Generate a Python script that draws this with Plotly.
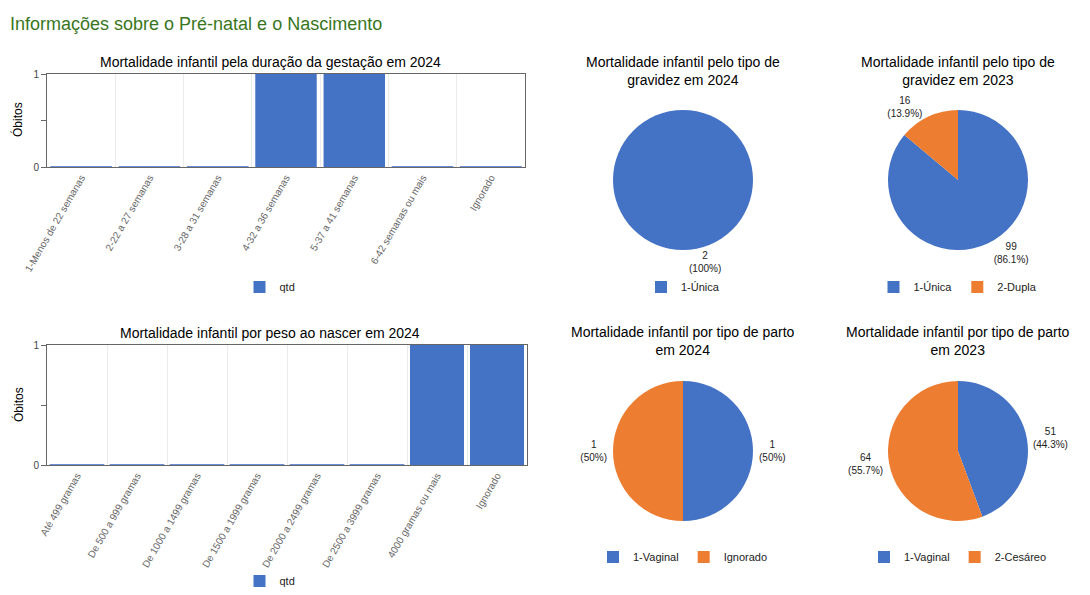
import plotly.graph_objects as go

# ---------------- data ----------------
gest_categories = ["1-Menos de 22 semanas", "2-22 a 27 semanas", "3-28 a 31 semanas",
                   "4-32 a 36 semanas", "5-37 a 41 semanas", "6-42 semanas ou mais", "Ignorado"]
gest_values = [0, 0, 0, 1, 1, 0, 0]

peso_categories = ["Até 499 gramas", "De 500 a 999 gramas", "De 1000 a 1499 gramas",
                   "De 1500 a 1999 gramas", "De 2000 a 2499 gramas", "De 2500 a 3999 gramas",
                   "4000 gramas ou mais", "Ignorado"]
peso_values = [0, 0, 0, 0, 0, 0, 1, 1]

grav2024_labels = ["1-Única"]
grav2024_values = [2]
grav2023_labels = ["1-Única", "2-Dupla"]
grav2023_values = [99, 16]

parto2024_labels = ["1-Vaginal", "Ignorado"]
parto2024_values = [1, 1]
parto2023_labels = ["1-Vaginal", "2-Cesáreo"]
parto2023_values = [51, 64]

series_name = "qtd"
y_ticks = [0, 0.5, 1]
y_ticktext = ["0", "", "1"]

# ---------------- style ----------------
W, H = 1090, 595
BLUE = "#4472c4"
ORANGE = "#ed7d31"
FONT = "Liberation Sans, Arial, sans-serif"


def px_x(x):
    return x / W


def px_y(y):
    return 1 - y / H


fig = go.Figure()

# bar chart 1
fig.add_trace(go.Bar(x=gest_categories, y=gest_values, name=series_name,
                     marker=dict(color=BLUE, line=dict(width=0)),
                     xaxis="x", yaxis="y", legend="legend", hoverinfo="x+y"))
# thin stubs for zero-valued bars (as the original chart draws them)
fig.add_trace(go.Scatter(x=gest_categories, y=[v if v == 0 else None for v in gest_values],
                         mode="markers", showlegend=False, hoverinfo="skip",
                         marker=dict(symbol="line-ew", size=44, line=dict(color="#6a8fd6", width=2)),
                         xaxis="x", yaxis="y", cliponaxis=False))

# bar chart 2
fig.add_trace(go.Bar(x=peso_categories, y=peso_values, name=series_name,
                     marker=dict(color=BLUE, line=dict(width=0)),
                     xaxis="x2", yaxis="y2", legend="legend2", hoverinfo="x+y"))
fig.add_trace(go.Scatter(x=peso_categories, y=[v if v == 0 else None for v in peso_values],
                         mode="markers", showlegend=False, hoverinfo="skip",
                         marker=dict(symbol="line-ew", size=39, line=dict(color="#6a8fd6", width=2)),
                         xaxis="x2", yaxis="y2", cliponaxis=False))


def pie(labels, values, cx, cy, legend, colors, tag):
    r = 70
    # zero-width suffix keeps each pie's legend independent (plotly merges equal labels)
    keyed = [lab + "\u200b" * tag for lab in labels]
    return go.Pie(labels=keyed, values=values, sort=False, direction="clockwise", rotation=0,
                  marker=dict(colors=colors, line=dict(width=0)),
                  textposition="outside", texttemplate="%{value}<br>(%{percent})",
                  textfont=dict(size=10, color="#222222", family=FONT),
                  domain=dict(x=[px_x(cx - r), px_x(cx + r)], y=[px_y(cy + r), px_y(cy - r)]),
                  legend=legend, showlegend=True, automargin=False)


fig.add_trace(pie(grav2024_labels, grav2024_values, 683, 180, "legend3", [BLUE], 0))
fig.add_trace(pie(grav2023_labels, grav2023_values, 958, 180, "legend4", [BLUE, ORANGE], 1))
fig.add_trace(pie(parto2024_labels, parto2024_values, 683, 451, "legend5", [BLUE, ORANGE], 2))
fig.add_trace(pie(parto2023_labels, parto2023_values, 958, 451, "legend6", [BLUE, ORANGE], 3))

xaxis_common = dict(type="category", tickson="boundaries", ticks="", showgrid=True,
                    gridcolor="#ebebeb", gridwidth=1, showline=True, linecolor="#666666",
                    mirror=True, tickangle=-60, automargin=False,
                    tickfont=dict(size=10, color="#666666", family=FONT), fixedrange=True)
yaxis_common = dict(range=[0, 1], tickvals=y_ticks, ticktext=y_ticktext, ticks="outside",
                    ticklen=5, tickcolor="#666666", showgrid=False, zeroline=False,
                    showline=True, linecolor="#666666", mirror=True, automargin=False,
                    tickfont=dict(size=10, color="#444444", family=FONT), fixedrange=True)


def legend_at(cx, cy):
    return dict(orientation="h", x=px_x(cx), y=px_y(cy), xanchor="center", yanchor="middle",
                font=dict(size=11, color="#222222", family=FONT), bgcolor="rgba(0,0,0,0)",
                itemwidth=30, tracegroupgap=0)


def note(text, x, y, size, color="#000000", xanchor="center", angle=0):
    return dict(text=text, x=px_x(x), y=px_y(y), xref="paper", yref="paper",
                xanchor=xanchor, yanchor="middle", showarrow=False, textangle=angle,
                font=dict(size=size, color=color, family=FONT))


annotations = [
    note("Informações sobre o Pré-natal e o Nascimento", 8, 24, 18, "#38761d", "left"),
    note("Mortalidade infantil pela duração da gestação em 2024", 270, 62, 14),
    note("Mortalidade infantil por peso ao nascer em 2024", 270, 333, 14),
    note("Mortalidade infantil pelo tipo de<br>gravidez em 2024", 683, 71, 14),
    note("Mortalidade infantil pelo tipo de<br>gravidez em 2023", 958, 71, 14),
    note("Mortalidade infantil por tipo de parto<br>em 2024", 683, 341, 14),
    note("Mortalidade infantil por tipo de parto<br>em 2023", 958, 341, 14),
    note("Óbitos", 18, 120, 12, angle=-90),
    note("Óbitos", 18, 405, 12, angle=-90),
]

fig.update_layout(
    width=W, height=H, margin=dict(l=0, r=0, t=0, b=0, autoexpand=False),
    paper_bgcolor="white", plot_bgcolor="white",
    font=dict(family=FONT, color="#222222"),
    bargap=0.1,
    xaxis=dict(domain=[px_x(47), px_x(525)], anchor="y",
               range=[-0.5, len(gest_categories) - 0.5], **xaxis_common),
    yaxis=dict(domain=[px_y(167), px_y(74)], anchor="x", **yaxis_common),
    xaxis2=dict(domain=[px_x(47), px_x(527)], anchor="y2",
                range=[-0.5, len(peso_categories) - 0.5], **xaxis_common),
    yaxis2=dict(domain=[px_y(465), px_y(345)], anchor="x2", **yaxis_common),
    legend=legend_at(270, 287),
    legend2=legend_at(270, 581),
    legend3=legend_at(683, 287),
    legend4=legend_at(958, 287),
    legend5=legend_at(683, 557),
    legend6=legend_at(958, 557),
    annotations=annotations,
)

fig.write_html("out.html")
